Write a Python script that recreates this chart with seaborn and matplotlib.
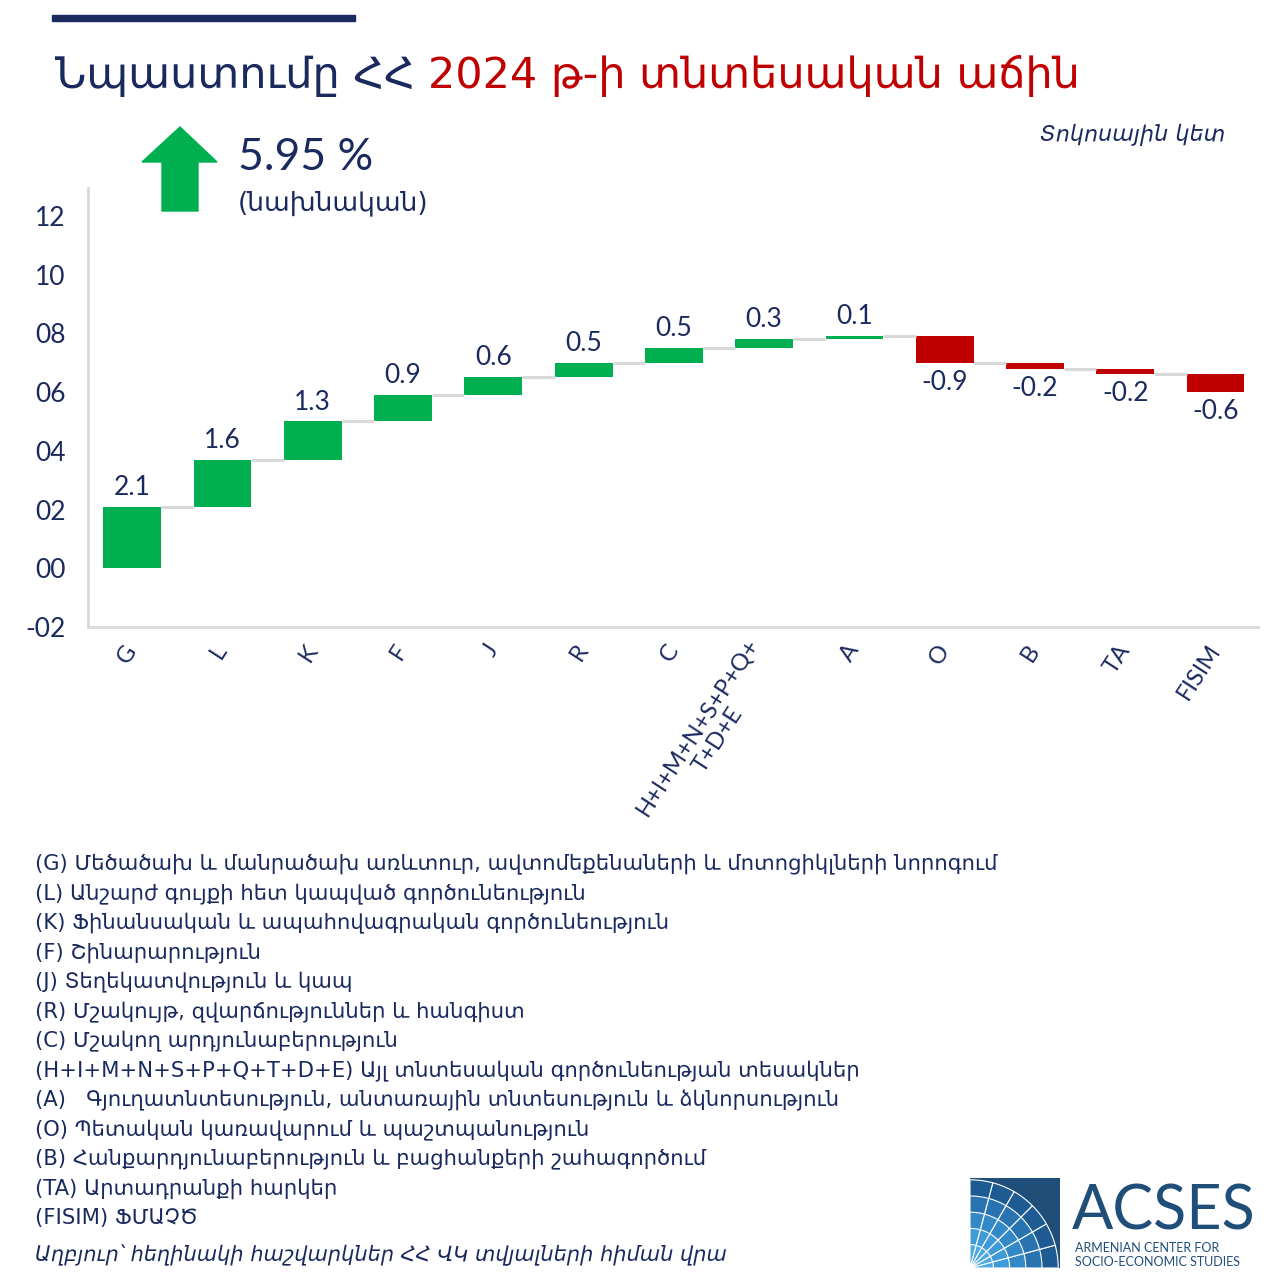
import numpy as np
import pandas as pd
import matplotlib.pyplot as plt
import seaborn as sns
from matplotlib.patches import Polygon, Rectangle, Wedge

# data
sectors = ['G', 'L', 'K', 'F', 'J', 'R', 'C', 'H+I+M+N+S+P+Q+\nT+D+E', 'A', 'O', 'B', 'TA', 'FISIM']
changes = [2.1, 1.6, 1.3, 0.9, 0.6, 0.5, 0.5, 0.3, 0.1, -0.9, -0.2, -0.2, -0.6]
ytick_values = [-2, 0, 2, 4, 6, 8, 10, 12]
ytick_labels = ['-02', '00', '02', '04', '06', '08', '10', '12']
total_growth = '5.95 %'

legend_lines = [
    '(G) Մեծածախ և մանրածախ առևտուր, ավտոմեքենաների և մոտոցիկլների նորոգում',
    '(L) Անշարժ գույքի հետ կապված գործունեություն',
    '(K) Ֆինանսական և ապահովագրական գործունեություն',
    '(F) Շինարարություն',
    '(J) Տեղեկատվություն և կապ',
    '(R) Մշակույթ, զվարճություններ և հանգիստ',
    '(C) Մշակող արդյունաբերություն',
    '(H+I+M+N+S+P+Q+T+D+E) Այլ տնտեսական գործունեության տեսակներ',
    '(A)   Գյուղատնտեսություն, անտառային տնտեսություն և ձկնորսություն',
    '(O) Պետական կառավարում և պաշտպանություն',
    '(B) Հանքարդյունաբերություն և բացհանքերի շահագործում',
    '(TA) Արտադրանքի հարկեր',
    '(FISIM) ՖՄԱՉԾ',
]

navy = '#1b2a5e'
green = '#00b050'
red = '#c00000'
W = H = 1280


def px(x, y):
    return x / W, 1 - y / H


sns.set_style('white')
plt.rcParams['font.family'] = ['DejaVu Sans']

df = pd.DataFrame({'sector': sectors, 'change': changes})
df['start'] = np.concatenate([[0], np.cumsum(changes)[:-1]])
df['end'] = df['start'] + df['change']

fig = plt.figure(figsize=(12.8, 12.8), dpi=100)
ax = fig.add_axes([88 / W, 1 - 627 / H, (1258 - 88) / W, (627 - 188) / H])

sns.barplot(data=df, x='sector', y='change', order=sectors, bottom=list(df['start']),
            color=green, saturation=1, width=0.64, errorbar=None, ax=ax)
for patch, v in zip(ax.patches, df['change']):
    patch.set_facecolor(green if v >= 0 else red)
    patch.set_edgecolor('none')

# connector lines between bars
for i in range(len(df) - 1):
    ax.hlines(df['end'][i], i + 0.32, i + 0.68, color='#d9d9d9', lw=2.2, zorder=1)

# value labels
for i, row in df.iterrows():
    if row['change'] >= 0:
        ax.annotate(f"{row['change']:.1f}", (i, row['end']), xytext=(0, 5),
                    textcoords='offset points', ha='center', va='bottom',
                    fontsize=19, color=navy, family='Lato')
    else:
        ax.annotate(f"{row['change']:.1f}", (i, row['end']), xytext=(0, -5),
                    textcoords='offset points', ha='center', va='top',
                    fontsize=19, color=navy, family='Lato')

ax.set_xlim(-0.49, 12.47)
ax.set_ylim(-2, 12.95)
ax.set_yticks(ytick_values)
ax.set_yticklabels(ytick_labels, fontsize=19, color=navy, family='Lato')
ax.set_xlabel('')
ax.set_ylabel('')
ax.tick_params(axis='both', length=0)
ax.tick_params(axis='x', pad=14)
ax.tick_params(axis='y', pad=16)
plt.setp(ax.get_xticklabels(), rotation=57, ha='right', va='center', rotation_mode='anchor',
         fontsize=17, color=navy, family='Lato', multialignment='center')
sns.despine(ax=ax)
for side in ['left', 'bottom']:
    ax.spines[side].set_color('#d9d9d9')
    ax.spines[side].set_linewidth(2)

# header
fig.patches.append(Rectangle(px(52, 21), 303 / W, 6 / H, transform=fig.transFigure,
                             color=navy, figure=fig))
t1 = fig.text(*px(55, 88), 'Նպաստումը ՀՀ ', fontsize=31, color=navy, va='baseline')
fig.canvas.draw()
bb = t1.get_window_extent(fig.canvas.get_renderer())
fig.text(bb.x1 / W, 1 - 88 / H, '2024 թ-ի տնտեսական աճին', fontsize=31, color=red, va='baseline')

arrow_pts = [px(180, 127), px(217, 162), px(198, 162), px(198, 211),
             px(162, 211), px(162, 162), px(142, 162)]
fig.patches.append(Polygon(arrow_pts, closed=True, transform=fig.transFigure,
                           color=green, figure=fig))
fig.text(*px(238, 158), total_growth, fontsize=32, color=navy, va='center', family='Lato')
fig.text(*px(238, 203), '(նախնական)', fontsize=19, color=navy, va='center')
fig.text(*px(1225, 135), 'Տոկոսային կետ', fontsize=16, color=navy, va='center',
         ha='right', style='italic')

# legend text
for k, line in enumerate(legend_lines):
    fig.text(*px(35, 864 + k * 29.5), line, fontsize=15.2, color=navy, va='center')
fig.text(*px(35, 1255), 'Աղբյուր՝ հեղինակի հաշվարկներ ՀՀ ՎԿ տվյալների հիման վրա',
         fontsize=15, color=navy, va='center', style='italic')

# logo
logo_ax = fig.add_axes([970 / W, 1 - 1268 / H, 90 / W, 90 / H])
logo_ax.set_xlim(0, 1)
logo_ax.set_ylim(0, 1)
logo_ax.axis('off')
logo_ax.add_patch(Rectangle((0, 0), 1, 1, color='#1f4e79'))
blues = ['#1d5b92', '#2873b0', '#3389c7', '#3f9bd8', '#4aa8e2']
radii = [0.98, 0.80, 0.62, 0.44, 0.26]
for r, c in zip(radii, blues):
    for a in range(0, 90, 15):
        logo_ax.add_patch(Wedge((0, 0), r, a, a + 15, color=c, ec='white', lw=0.8))
fig.text(*px(1072, 1212), 'ACSES', fontsize=44, color='#1f4e79', va='center', family='Lato')
fig.text(*px(1075, 1248), 'ARMENIAN CENTER FOR', fontsize=9, color='#1f4e79', va='center', family='Lato')
fig.text(*px(1075, 1262), 'SOCIO-ECONOMIC STUDIES', fontsize=9, color='#1f4e79', va='center', family='Lato')

fig.savefig('out.png', dpi=100, facecolor='white')
